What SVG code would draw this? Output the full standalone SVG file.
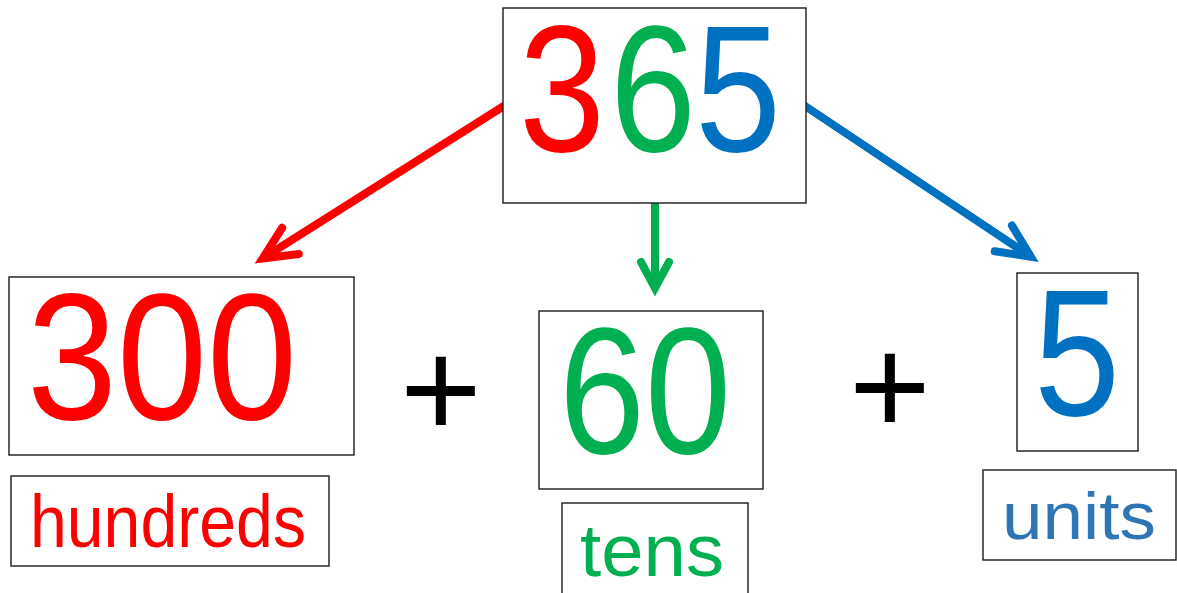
<svg xmlns="http://www.w3.org/2000/svg" width="1177" height="593" viewBox="0 0 1177 593">
  <style>
    .box { fill: #ffffff; stroke: #1a1a1a; stroke-width: 1.4; }
    .num { font-family: "Liberation Sans", Arial, sans-serif; font-size: 180px; text-anchor: middle; }
    .word { font-family: "Liberation Sans", Arial, sans-serif; }
    .plus { font-family: "Liberation Sans", Arial, sans-serif; font-size: 140px; fill: #000000; text-anchor: middle; }
    .red { fill: #FF0000; }
    .green { fill: #00B050; }
    .blue { fill: #0070C0; }
    .conn { fill: none; stroke-width: 8; stroke-linecap: butt; }
    .head { fill: none; stroke-width: 8; stroke-linecap: round; stroke-linejoin: miter; stroke-miterlimit: 10; }
  </style>
  <defs>
    <marker id="arrRed" markerUnits="userSpaceOnUse" orient="auto" refX="0" refY="0" markerWidth="60" markerHeight="60" overflow="visible">
      <path class="head" stroke="#FF0000" d="M-33,-15.5 L0,0 L-33,15.5"/>
    </marker>
    <marker id="arrGreen" markerUnits="userSpaceOnUse" orient="auto" refX="0" refY="0" markerWidth="60" markerHeight="60" overflow="visible">
      <path class="head" stroke="#00B050" d="M-26,-14 L0,0 L-26,14"/>
    </marker>
    <marker id="arrBlue" markerUnits="userSpaceOnUse" orient="auto" refX="0" refY="0" markerWidth="60" markerHeight="60" overflow="visible">
      <path class="head" stroke="#0070C0" d="M-33,-15.5 L0,0 L-33,15.5"/>
    </marker>
  </defs>

  <g id="connectors">
    <path class="conn" stroke="#FF0000" d="M507,104 L262.6,258.5" marker-end="url(#arrRed)"/>
    <path class="conn" stroke="#00B050" d="M655,200 L655,288" marker-end="url(#arrGreen)"/>
    <path class="conn" stroke="#0070C0" d="M802,104 L1030.8,256.7" marker-end="url(#arrBlue)"/>
  </g>

  <g id="node-365">
    <rect class="box" x="503" y="8" width="303" height="195"/>
    <text class="num red" x="562" y="151" textLength="86" lengthAdjust="spacingAndGlyphs">3</text>
    <text class="num green" x="653" y="151" textLength="86" lengthAdjust="spacingAndGlyphs">6</text>
    <text class="num blue" x="738" y="151" textLength="86" lengthAdjust="spacingAndGlyphs">5</text>
  </g>

  <g id="node-300">
    <rect class="box" x="9" y="277" width="345" height="178"/>
    <text class="num red" x="162" y="419" textLength="270" lengthAdjust="spacingAndGlyphs">300</text>
  </g>

  <g id="node-hundreds">
    <rect class="box" x="11" y="476" width="318" height="90"/>
    <text class="word red" x="30" y="547" font-size="74" textLength="276" lengthAdjust="spacingAndGlyphs">hundreds</text>
  </g>

  <g id="node-60">
    <rect class="box" x="539" y="311" width="224" height="178"/>
    <text class="num green" x="645" y="453" textLength="172" lengthAdjust="spacingAndGlyphs">60</text>
  </g>

  <g id="node-tens">
    <rect class="box" x="562" y="503" width="186" height="100"/>
    <text class="word green" x="580" y="576" font-size="74" textLength="144" lengthAdjust="spacingAndGlyphs">tens</text>
  </g>

  <g id="node-5">
    <rect class="box" x="1017" y="273" width="121" height="178"/>
    <text class="num blue" x="1077" y="415" textLength="86" lengthAdjust="spacingAndGlyphs">5</text>
  </g>

  <g id="node-units">
    <rect class="box" x="983" y="470" width="193" height="90"/>
    <text class="word" fill="#2E75B6" x="1002" y="539" font-size="67" textLength="154" lengthAdjust="spacingAndGlyphs">units</text>
  </g>

  <g id="plus-1">
    <text class="plus" x="441" y="437">+</text>
  </g>
  <g id="plus-2">
    <text class="plus" x="890" y="434">+</text>
  </g>
</svg>
